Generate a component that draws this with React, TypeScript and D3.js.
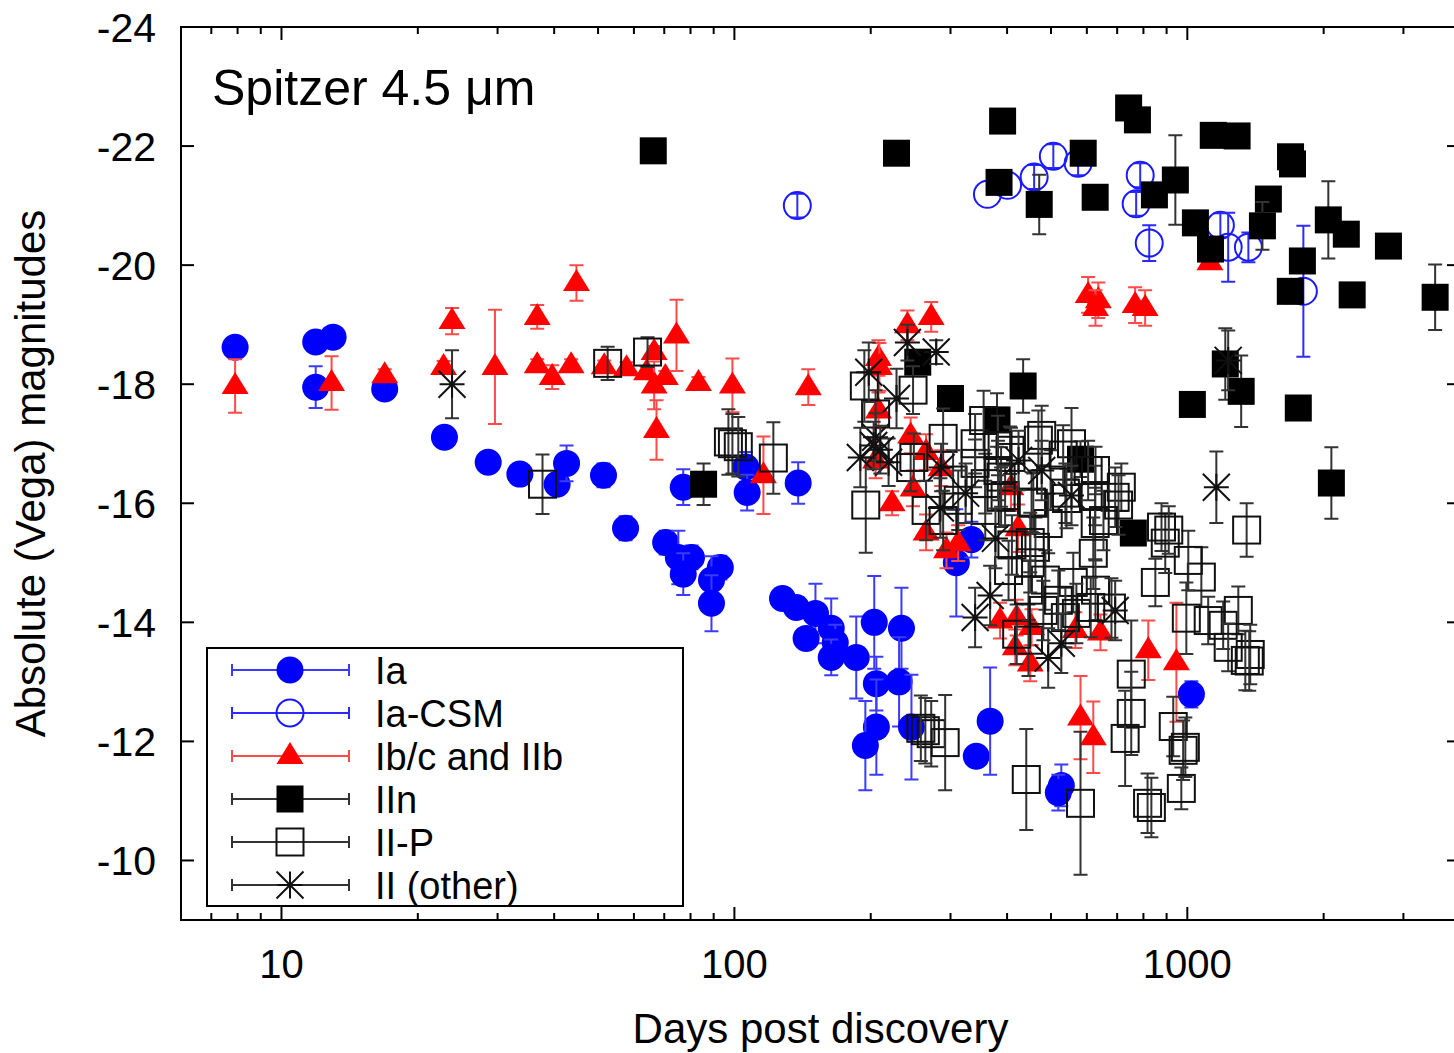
import React, { useEffect, useRef } from 'react';
import * as d3 from 'd3';

// [days post discovery, absolute magnitude, error]
type Pt = [number, number, number];

const ia: Pt[] = [
  [7.9, -18.62, 0.1], [11.9, -18.71, 0.1], [13.0, -18.79, 0.1], [11.9, -17.95, 0.35],
  [16.9, -17.92, 0.1], [22.9, -17.11, 0.1], [28.6, -16.69, 0.1], [33.6, -16.49, 0.1],
  [40.6, -16.32, 0.1], [42.6, -16.67, 0.3], [51.4, -16.47, 0.2], [57.5, -15.58, 0.2],
  [70.5, -15.34, 0.2], [75.2, -15.09, 0.45], [80.4, -15.09, 0.2], [77.1, -14.81, 0.35],
  [93.1, -14.92, 0.2], [89.0, -14.71, 0.4], [89.0, -14.32, 0.47], [127.7, -14.4, 0.1],
  [137, -14.25, 0.1], [151, -14.15, 0.5], [144, -13.73, 0.1], [163.6, -13.9, 0.5],
  [167, -13.66, 0.3], [163.6, -13.41, 0.3], [185.8, -13.41, 0.69], [203.6, -14.0, 0.78],
  [233.8, -13.9, 0.68], [205.8, -12.97, 0.45], [231, -13.0, 0.75], [205.8, -12.24, 0.8],
  [194.6, -11.93, 0.75], [246, -12.24, 0.88], [342, -11.75, 0.15], [309, -15.0, 0.9],
  [333.6, -15.39, 0.3], [367, -12.34, 0.9], [527, -11.26, 0.35], [519, -11.14, 0.3],
  [1021, -12.79, 0.22], [77.1, -16.27, 0.3], [106, -16.61, 0.25], [106.7, -16.18, 0.3],
  [138.3, -16.34, 0.35],
];

const iaCsm: Pt[] = [
  [137.7, -21.0, 0.2], [362, -21.19, 0], [401, -21.34, 0], [459, -21.48, 0.2],
  [506, -21.83, 0.2], [574, -21.71, 0.2], [787, -21.51, 0.2], [771, -21.03, 0.2],
  [824, -20.37, 0.3], [1183, -20.67, 0.2], [1231, -20.3, 0.58], [1364, -20.3, 0.25],
  [1804, -19.56, 1.1],
];

const ibc: Pt[] = [
  [7.9, -17.97, 0.45], [12.9, -18.02, 0.45], [16.9, -18.15, 0.1], [23.8, -19.06, 0.22],
  [22.8, -18.29, 0.1], [29.6, -18.29, 0.96], [36.7, -19.13, 0.2], [36.7, -18.32, 0.1],
  [39.6, -18.12, 0.2], [43.6, -18.32, 0.1], [44.8, -19.7, 0.3], [51.6, -18.3, 0.1],
  [57.8, -18.27, 0.1], [64.0, -18.2, 0.1], [66.5, -18.54, 0.1], [66.5, -17.98, 0.4],
  [70.4, -18.12, 0.1], [74.5, -18.82, 0.6], [83.3, -18.02, 0.1], [99.0, -17.98, 0.45],
  [67.3, -17.23, 0.5], [145.6, -17.95, 0.3], [115.9, -16.47, 0.65], [241, -18.99, 0.25],
  [272, -19.13, 0.25], [208, -18.44, 0.3], [209, -18.29, 0.4], [208, -17.56, 0.3],
  [245, -17.14, 0.3], [205, -16.72, 0.3], [265, -16.86, 0.3], [286, -16.59, 0.3],
  [248, -16.25, 0.3], [223, -16.0, 0.2], [265, -15.51, 0.3], [294, -15.21, 0.3],
  [312, -15.33, 0.3], [408, -16.27, 0.4], [423, -15.58, 0.4], [386, -14.03, 0.3],
  [420, -14.08, 0.3], [453, -13.92, 0.3], [417, -13.58, 0.3], [450, -13.31, 0.3],
  [566, -13.87, 0.3], [643, -13.83, 0.3], [820, -13.53, 0.5], [946, -13.33, 1.0],
  [581, -12.4, 0.7], [620, -12.07, 0.6], [1122, -20.05, 0.1], [604, -19.5, 0.3],
  [636, -19.41, 0.3], [627, -19.28, 0.3], [767, -19.33, 0.3], [807, -19.28, 0.3],
];

const iin: Pt[] = [
  [66.2, -21.92, 0], [228, -21.88, 0], [85.5, -16.32, 0.35], [391, -22.42, 0],
  [742, -22.64, 0], [776, -22.44, 0], [1141, -22.18, 0], [1288, -22.17, 0],
  [589, -21.88, 0], [384, -21.39, 0], [471, -21.02, 0.5], [626, -21.14, 0],
  [846, -21.18, 0], [941, -21.43, 0.75], [1042, -20.71, 0], [1125, -20.27, 0.2],
  [1510, -21.11, 0], [1465, -20.66, 0.4], [1707, -21.7, 0], [1690, -21.82, 0],
  [1795, -20.07, 0], [1688, -19.56, 0.2], [2048, -20.76, 0.65], [2244, -20.52, 0],
  [2780, -20.32, 0], [2312, -19.5, 0], [3525, -19.46, 0.55], [1213, -18.34, 0.6],
  [1315, -17.88, 0.6], [1026, -17.66, 0.15], [1758, -17.6, 0.15], [2080, -16.34, 0.6],
  [581, -16.74, 0.3], [760, -15.5, 0.1], [254, -18.37, 0.1], [300, -17.76, 0.1],
  [380, -17.4, 0.45], [434, -17.97, 0.45],
];

const iip: Pt[] = [
  [37.7, -16.32, 0.5], [52.5, -18.35, 0.28], [64.3, -18.54, 0.25], [97, -17.03, 0.55],
  [99, -17.0, 0.5], [102, -16.95, 0.5], [121.9, -16.76, 0.6], [193.6, -17.97, 0.6],
  [195, -15.97, 0.8], [205, -17.5, 0.4], [248, -17.9, 0.4], [289, -17.09, 0.5],
  [245, -16.6, 0.4], [340, -17.0, 0.5], [406, -16.89, 0.4], [477, -17.14, 0.5],
  [555, -17.0, 0.6], [627, -16.55, 0.4], [715, -16.27, 0.4], [265, -15.88, 0.5],
  [358, -16.33, 0.5], [396, -16.13, 0.5], [453, -16.02, 0.5], [538, -16.17, 0.5],
  [493, -15.66, 0.5], [626, -15.66, 0.6], [358, -15.88, 0.5], [462, -15.26, 0.5],
  [249, -16.77, 0.4], [304, -16.39, 0.5], [388, -16.44, 0.5], [1352, -15.55, 0.45],
  [752, -13.13, 0.9], [850, -14.67, 0.4], [1074, -14.76, 0.5], [995, -14.07, 0.6],
  [1112, -14.03, 0.4], [1200, -13.95, 0.4], [1296, -14.2, 0.4], [1231, -13.58, 0.4],
  [1377, -13.46, 0.5], [1370, -13.35, 0.5], [894, -15.33, 0.5], [1005, -15.04, 0.5],
  [877, -15.6, 0.4], [910, -15.55, 0.4], [626, -16.13, 0.5], [693, -16.1, 0.5],
  [620, -15.16, 0.6], [560, -14.67, 0.5], [627, -14.54, 0.5], [680, -14.24, 0.5],
  [538, -14.08, 0.5], [486, -14.71, 0.5], [499, -16.39, 0.5], [541, -16.08, 0.5],
  [408, -16.77, 0.5], [340, -16.67, 0.4], [388, -16.1, 0.5], [457, -16.0, 0.5],
  [450, -15.34, 0.5], [450, -15.0, 0.5], [446, -13.7, 0.6], [420, -13.8, 0.5],
  [569, -14.15, 0.5], [612, -14.25, 0.5], [264, -12.18, 0.55], [272, -12.13, 0.55],
  [292, -11.98, 0.8], [258, -12.22, 0.55], [441, -11.36, 0.85], [581, -10.96, 1.2],
  [752, -12.47, 0.7], [729, -12.05, 0.8], [931, -12.25, 0.5], [979, -11.85, 0.5],
  [990, -11.9, 0.5], [970, -11.21, 0.35], [817, -10.96, 0.5], [833, -10.89, 0.5],
  [1343, -13.36, 0.5], [446, -14.54, 0.5], [410, -15.3, 0.5],
  [355, -17.39, 0.5], [382, -16.97, 0.5], [469, -17.06, 0.5], [532, -16.81, 0.5],
  [604, -16.55, 0.5], [653, -15.71, 0.5], [705, -15.97, 0.5], [312, -16.05, 0.5],
  [289, -15.71, 0.5], [403, -14.87, 0.5], [481, -14.2, 0.5], [519, -14.37, 0.5],
  [382, -16.55, 0.5],
];

const iiOther: Pt[] = [
  [23.8, -18.0, 0.57], [241, -18.7, 0.3], [279, -18.54, 0.2], [198, -18.2, 0.5],
  [228, -17.76, 0.5], [205, -17.11, 0.4], [189.7, -16.77, 0.5], [219, -16.69, 0.4],
  [286, -16.6, 0.4], [324, -16.17, 0.5], [285, -15.92, 0.5], [377, -15.41, 0.5],
  [477, -16.55, 0.5], [555, -16.13, 0.5], [340, -14.08, 0.5], [367, -14.45, 0.5],
  [493, -13.4, 0.5], [527, -13.65, 0.5], [693, -14.2, 0.5], [1159, -16.27, 0.6],
  [1231, -18.4, 0.5], [210, -16.9, 0.4], [203, -16.97, 0.4], [424, -16.72, 0.5],
];

const magTicks = [-24, -22, -20, -18, -16, -14, -12, -10];
const dayLabels = [10, 100, 1000];

const series = [
  { label: 'Ia', data: ia, shape: 'circle', filled: true, color: '#0000ff', bar: '#3b3bff' },
  { label: 'Ia-CSM', data: iaCsm, shape: 'circle', filled: false, color: '#1a1aff', bar: '#2b2bff' },
  { label: 'Ib/c and IIb', data: ibc, shape: 'triangle', filled: true, color: '#ff0000', bar: '#ff4a4a' },
  { label: 'IIn', data: iin, shape: 'square', filled: true, color: '#000000', bar: '#333333' },
  { label: 'II-P', data: iip, shape: 'square', filled: false, color: '#111111', bar: '#333333' },
  { label: 'II (other)', data: iiOther, shape: 'star', filled: false, color: '#111111', bar: '#333333' },
];

const FONT = '"Liberation Sans", Arial, Helvetica, sans-serif';

function drawMarker(g, shape, filled, color) {
  if (shape === 'circle') {
    g.append('circle').attr('r', 13.5)
      .attr('fill', filled ? color : 'none')
      .attr('stroke', color).attr('stroke-width', filled ? 0 : 2);
  } else if (shape === 'triangle') {
    g.append('path').attr('d', 'M0,-14L13.5,8L-13.5,8Z').attr('fill', color);
  } else if (shape === 'square') {
    g.append('rect').attr('x', -13.5).attr('y', -13.5).attr('width', 27).attr('height', 27)
      .attr('fill', filled ? color : 'none')
      .attr('stroke', color).attr('stroke-width', filled ? 0 : 2);
  } else {
    g.append('path')
      .attr('d', 'M0,-13.5V13.5M-12.5,0H12.5M-13.5,-13.5L13.5,13.5M-13.5,13.5L13.5,-13.5')
      .attr('stroke', color).attr('stroke-width', 2).attr('fill', 'none');
  }
}

const App = () => {
  const svgRef = useRef<SVGSVGElement>(null);

  useEffect(() => {
    const svg = d3.select(svgRef.current);
    svg.selectAll('*').remove();

    const left = 181, right = 1460, top = 27, bottom = 920;
    const x = d3.scaleLog().domain([6, 4000]).range([left, right]);
    const y = d3.scaleLinear().domain([-24, -9]).range([top, bottom]);

    // data: error bars first, then markers, series by series
    const plot = svg.append('g');
    series.forEach(s => {
      const g = plot.append('g');
      s.data.forEach(([d, m, e]) => {
        const px = x(d), py = y(m);
        if (e > 0) {
          const y1 = y(m - e), y2 = y(m + e);
          g.append('path')
            .attr('d', `M${px},${y1}V${y2}M${px - 7},${y1}H${px + 7}M${px - 7},${y2}H${px + 7}`)
            .attr('stroke', s.bar).attr('stroke-width', 2).attr('fill', 'none');
        }
        const mg = g.append('g').attr('transform', `translate(${px},${py})`);
        drawMarker(mg, s.shape, s.filled, s.color);
      });
    });

    // frame
    svg.append('rect')
      .attr('x', left).attr('y', top).attr('width', right - left).attr('height', bottom - top)
      .attr('fill', 'none').attr('stroke', '#000').attr('stroke-width', 2);

    // x ticks (log, major and minor, top and bottom)
    const ticks = svg.append('g').attr('stroke', '#000').attr('stroke-width', 2);
    [1, 10, 100, 1000].forEach(dec => {
      for (let j = 1; j <= 9; j++) {
        const v = dec * j;
        if (v <= 6 || v >= 4000) continue;
        const len = j === 1 ? 13 : 7;
        const px = x(v);
        ticks.append('line').attr('x1', px).attr('x2', px).attr('y1', bottom).attr('y2', bottom - len);
        ticks.append('line').attr('x1', px).attr('x2', px).attr('y1', top).attr('y2', top + len);
      }
    });
    magTicks.forEach(t => {
      const py = y(t);
      ticks.append('line').attr('x1', left).attr('x2', left + 13).attr('y1', py).attr('y2', py);
      ticks.append('line').attr('x1', right).attr('x2', right - 13).attr('y1', py).attr('y2', py);
    });

    // tick labels
    svg.append('g').selectAll('text').data(magTicks).enter().append('text')
      .attr('x', 156).attr('y', d => y(d) + 15)
      .attr('text-anchor', 'end')
      .style('font-family', FONT).style('font-size', '41px')
      .text(d => `${d}`);

    svg.append('g').selectAll('text').data(dayLabels).enter().append('text')
      .attr('x', d => x(d)).attr('y', 978)
      .attr('text-anchor', 'middle')
      .style('font-family', FONT).style('font-size', '40px')
      .text(d => `${d}`);

    // axis titles
    svg.append('text')
      .attr('x', (left + right) / 2).attr('y', 1043)
      .attr('text-anchor', 'middle')
      .style('font-family', FONT).style('font-size', '42px')
      .text('Days post discovery');

    svg.append('text')
      .attr('transform', `translate(45,${(top + bottom) / 2}) rotate(-90)`)
      .attr('text-anchor', 'middle')
      .style('font-family', FONT).style('font-size', '42px')
      .text('Absolute (Vega) magnitudes');

    svg.append('text')
      .attr('x', 212).attr('y', 105)
      .style('font-family', FONT).style('font-size', '50px')
      .text('Spitzer 4.5 μm');

    // legend
    const legend = svg.append('g');
    legend.append('rect')
      .attr('x', 207).attr('y', 648).attr('width', 476).attr('height', 258)
      .attr('fill', 'none').attr('stroke', '#000').attr('stroke-width', 2);

    series.forEach((s, i) => {
      const ly = 670 + i * 43;
      const row = legend.append('g');
      row.append('path')
        .attr('d', `M232,${ly}H349M232,${ly - 6}V${ly + 6}M349,${ly - 6}V${ly + 6}`)
        .attr('stroke', s.bar).attr('stroke-width', 2).attr('fill', 'none');
      const mg = row.append('g').attr('transform', `translate(290,${ly})`);
      drawMarker(mg, s.shape, s.filled, s.color);
      row.append('text')
        .attr('x', 375).attr('y', ly + 14)
        .style('font-family', FONT).style('font-size', '38px')
        .text(s.label);
    });
  }, []);

  return (
    <svg ref={svgRef} width={1454} height={1053}
      style={{ position: 'absolute', left: 0, top: 0, background: '#fff' }} />
  );
};

export default App;
